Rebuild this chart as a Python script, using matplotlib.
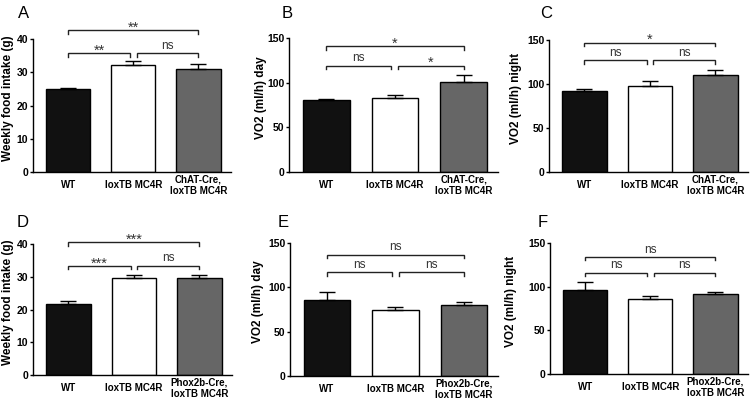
import matplotlib
matplotlib.use('Agg')
import matplotlib.pyplot as plt
import numpy as np

plt.rcParams['font.family'] = ['Liberation Sans', 'DejaVu Sans']

# group names
labels_chat = ['WT', 'loxTB MC4R', 'ChAT-Cre,\nloxTB MC4R']
labels_phox = ['WT', 'loxTB MC4R', 'Phox2b-Cre,\nloxTB MC4R']

# A - weekly food intake, ChAT-Cre
food_chat = [25.0, 32.3, 31.0]
food_chat_err = [0.3, 1.1, 1.4]
# B - VO2 day, ChAT-Cre
vo2_day_chat = [80.5, 82.5, 101.0]
vo2_day_chat_err = [1.5, 3.5, 8.0]
# C - VO2 night, ChAT-Cre
vo2_night_chat = [91.5, 97.5, 110.5]
vo2_night_chat_err = [2.3, 5.5, 5.5]
# D - weekly food intake, Phox2b-Cre
food_phox = [21.7, 29.6, 29.5]
food_phox_err = [1.0, 0.9, 0.9]
# E - VO2 day, Phox2b-Cre
vo2_day_phox = [85.2, 74.7, 80.3]
vo2_day_phox_err = [9.0, 2.6, 3.0]
# F - VO2 night, Phox2b-Cre
vo2_night_phox = [96.0, 85.6, 91.6]
vo2_night_phox_err = [9.0, 3.5, 2.5]

# significance: (WT vs lox, lox vs Cre, WT vs Cre)
sig_a = ['**', 'ns', '**']
sig_b = ['ns', '*', '*']
sig_c = ['ns', 'ns', '*']
sig_d = ['***', 'ns', '***']
sig_e = ['ns', 'ns', 'ns']
sig_f = ['ns', 'ns', 'ns']

W, H = 750, 401
fig = plt.figure(figsize=(7.5, 4.01), dpi=100)

def rect(l, t, r, b):
    return [l / W, (H - b) / H, (r - l) / W, (b - t) / H]

bar_colors = ['#111111', 'white', '#666666']

# letter, axes box in px, ylabel, label offset px, ymax, yticks, bracket heights, letter pos
panels = [
    ('A', (33, 39, 231, 172), labels_chat, food_chat, food_chat_err, sig_a,
     'Weekly food intake (g)', 19, 40, [0, 10, 20, 30, 40], (35.7, 42.7), (18, 18)),
    ('B', (289, 38, 498, 172), labels_chat, vo2_day_chat, vo2_day_chat_err, sig_b,
     'VO2 (ml/h) day', 22, 150, [0, 50, 100, 150], (119, 140.6), (282, 18)),
    ('C', (549, 40, 748, 172), labels_chat, vo2_night_chat, vo2_night_chat_err, sig_c,
     'VO2 (ml/h) night', 27, 150, [0, 50, 100, 150], (127, 147), (540, 18)),
    ('D', (33, 244, 232, 375), labels_phox, food_phox, food_phox_err, sig_d,
     'Weekly food intake (g)', 19.5, 40, [0, 10, 20, 30, 40], (33.3, 40.5), (17, 227)),
    ('E', (290, 243, 498, 376), labels_phox, vo2_day_phox, vo2_day_phox_err, sig_e,
     'VO2 (ml/h) day', 26.5, 150, [0, 50, 100, 150], (117, 137), (278, 227)),
    ('F', (550, 243, 748, 374), labels_phox, vo2_night_phox, vo2_night_phox_err, sig_f,
     'VO2 (ml/h) night', 33, 150, [0, 50, 100, 150], (116, 134), (538, 227)),
]

for (letter, box, labels, means, err, sig, ylabel, loff, ymax, yticks,
     (y_low, y_top), (lx, ly)) in panels:
    ax = fig.add_axes(rect(*box))
    x = np.arange(len(means))
    ax.bar(x, means, width=0.68, color=bar_colors, edgecolor='black',
           linewidth=1.0, zorder=2)
    ax.errorbar(x, means, yerr=[np.zeros(len(err)), err], fmt='none',
                ecolor='black', elinewidth=1.0, capsize=6, capthick=1.0, zorder=3)
    ax.set_xlim(-0.54, 2.5)
    ax.set_ylim(0, ymax)
    for s in ['top', 'right']:
        ax.spines[s].set_visible(False)
    for s in ['left', 'bottom']:
        ax.spines[s].set_linewidth(1.0)
    ax.set_xticks(x)
    ax.set_xticklabels(labels, fontsize=7, fontweight='bold', va='center')
    ax.tick_params(axis='x', length=0, pad=9.4)
    ax.set_yticks(yticks)
    ax.set_yticklabels([str(t) for t in yticks], fontsize=7.5, fontweight='bold')
    ax.tick_params(axis='y', length=2.5, width=1.0, pad=1)
    ax.set_ylabel(ylabel, fontsize=8.5, fontweight='bold')
    width_px = box[2] - box[0]
    ax.yaxis.set_label_coords(-loff / width_px, 0.555)

    # brackets
    drop = 3.5 / (box[3] - box[1]) * ymax
    g = 0.05
    spans = [(0, 1 - g, y_low), (1 + g, 2, y_low), (0, 2, y_top)]
    for (x0, x1, y), lab in zip(spans, sig):
        ax.plot([x0, x0, x1, x1], [y - drop, y, y, y - drop], color='#222222',
                lw=1.0, clip_on=False, solid_joinstyle='miter')
        if '*' in lab:
            fs, off = 10.5, -1.0
        else:
            fs, off = 8.5, 3.2
        ax.annotate(lab, xy=((x0 + x1) / 2, y), xytext=(0, off),
                    textcoords='offset points', ha='center', va='baseline',
                    fontsize=fs, color='#333333', annotation_clip=False)

    fig.text(lx / W, 1 - ly / H, letter, fontsize=12, ha='left', va='baseline')

fig.savefig('out.png', dpi=100, facecolor='white')
